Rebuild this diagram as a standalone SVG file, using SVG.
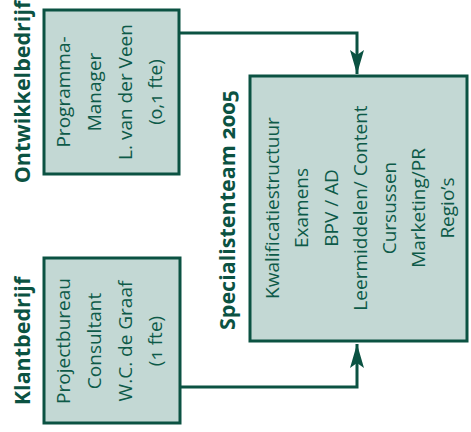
<svg xmlns="http://www.w3.org/2000/svg" width="471" height="432" viewBox="0 0 471 432">
<style>
.box{fill:#c3d8d4;stroke:#0b5242;stroke-width:3}
.t{font-family:"Open Sans","Noto Sans",sans-serif;font-size:19px;fill:#0d5a48;text-anchor:middle;font-variant-numeric:oldstyle-nums}
.h{font-family:"Open Sans","Noto Sans",sans-serif;font-size:21.5px;font-weight:bold;fill:#0b5242;text-anchor:middle;font-variant-numeric:oldstyle-nums}
.c{fill:none;stroke:#0b5242;stroke-width:3}
</style>
<defs>
<marker id="arr" markerUnits="userSpaceOnUse" markerWidth="26" markerHeight="16" refX="24" refY="7" orient="auto">
<path d="M0,0 L24,7 L0,14 L5,7 z" fill="#0b5242"/>
</marker>
</defs>
<rect width="471" height="432" fill="#fff"/>
<g id="connectors">
<path class="c" d="M179,33 H357 V74" marker-end="url(#arr)"/>
<path class="c" d="M180,387 H357 V344" marker-end="url(#arr)"/>
</g>
<g id="ontwikkelbedrijf">
<rect class="box" x="44" y="10" width="135" height="164"/>
<text class="h" transform="translate(30,92) rotate(-90)">Ontwikkelbedrijf</text>
<text class="t" transform="translate(70,92) rotate(-90)">Programma-</text>
<text class="t" transform="translate(101,92) rotate(-90)">Manager</text>
<text class="t" transform="translate(132,92) rotate(-90)">L. van der Veen</text>
<text class="t" transform="translate(162,92) rotate(-90)">(0,1 fte)</text>
</g>
<g id="klantbedrijf">
<rect class="box" x="44" y="258" width="136" height="165"/>
<text class="h" transform="translate(30,341) rotate(-90)">Klantbedrijf</text>
<text class="t" transform="translate(70,341) rotate(-90)">Projectbureau</text>
<text class="t" transform="translate(101,341) rotate(-90)">Consultant</text>
<text class="t" transform="translate(132,341) rotate(-90)">W.C. de Graaf</text>
<text class="t" transform="translate(162,341) rotate(-90)">(1 fte)</text>
</g>
<g id="specialistenteam">
<rect class="box" x="250" y="76" width="217" height="265"/>
<text class="h" transform="translate(235,210) rotate(-90)">Specialistenteam 2005</text>
<text class="t" transform="translate(279,208) rotate(-90)">Kwalificatiestructuur</text>
<text class="t" transform="translate(308,208) rotate(-90)">Examens</text>
<text class="t" transform="translate(338,208) rotate(-90)">BPV / AD</text>
<text class="t" transform="translate(367,208) rotate(-90)">Leermiddelen/ Content</text>
<text class="t" transform="translate(396,208) rotate(-90)">Cursussen</text>
<text class="t" transform="translate(425,208) rotate(-90)">Marketing/PR</text>
<text class="t" transform="translate(454,208) rotate(-90)">Regio’s</text>
</g>
</svg>
